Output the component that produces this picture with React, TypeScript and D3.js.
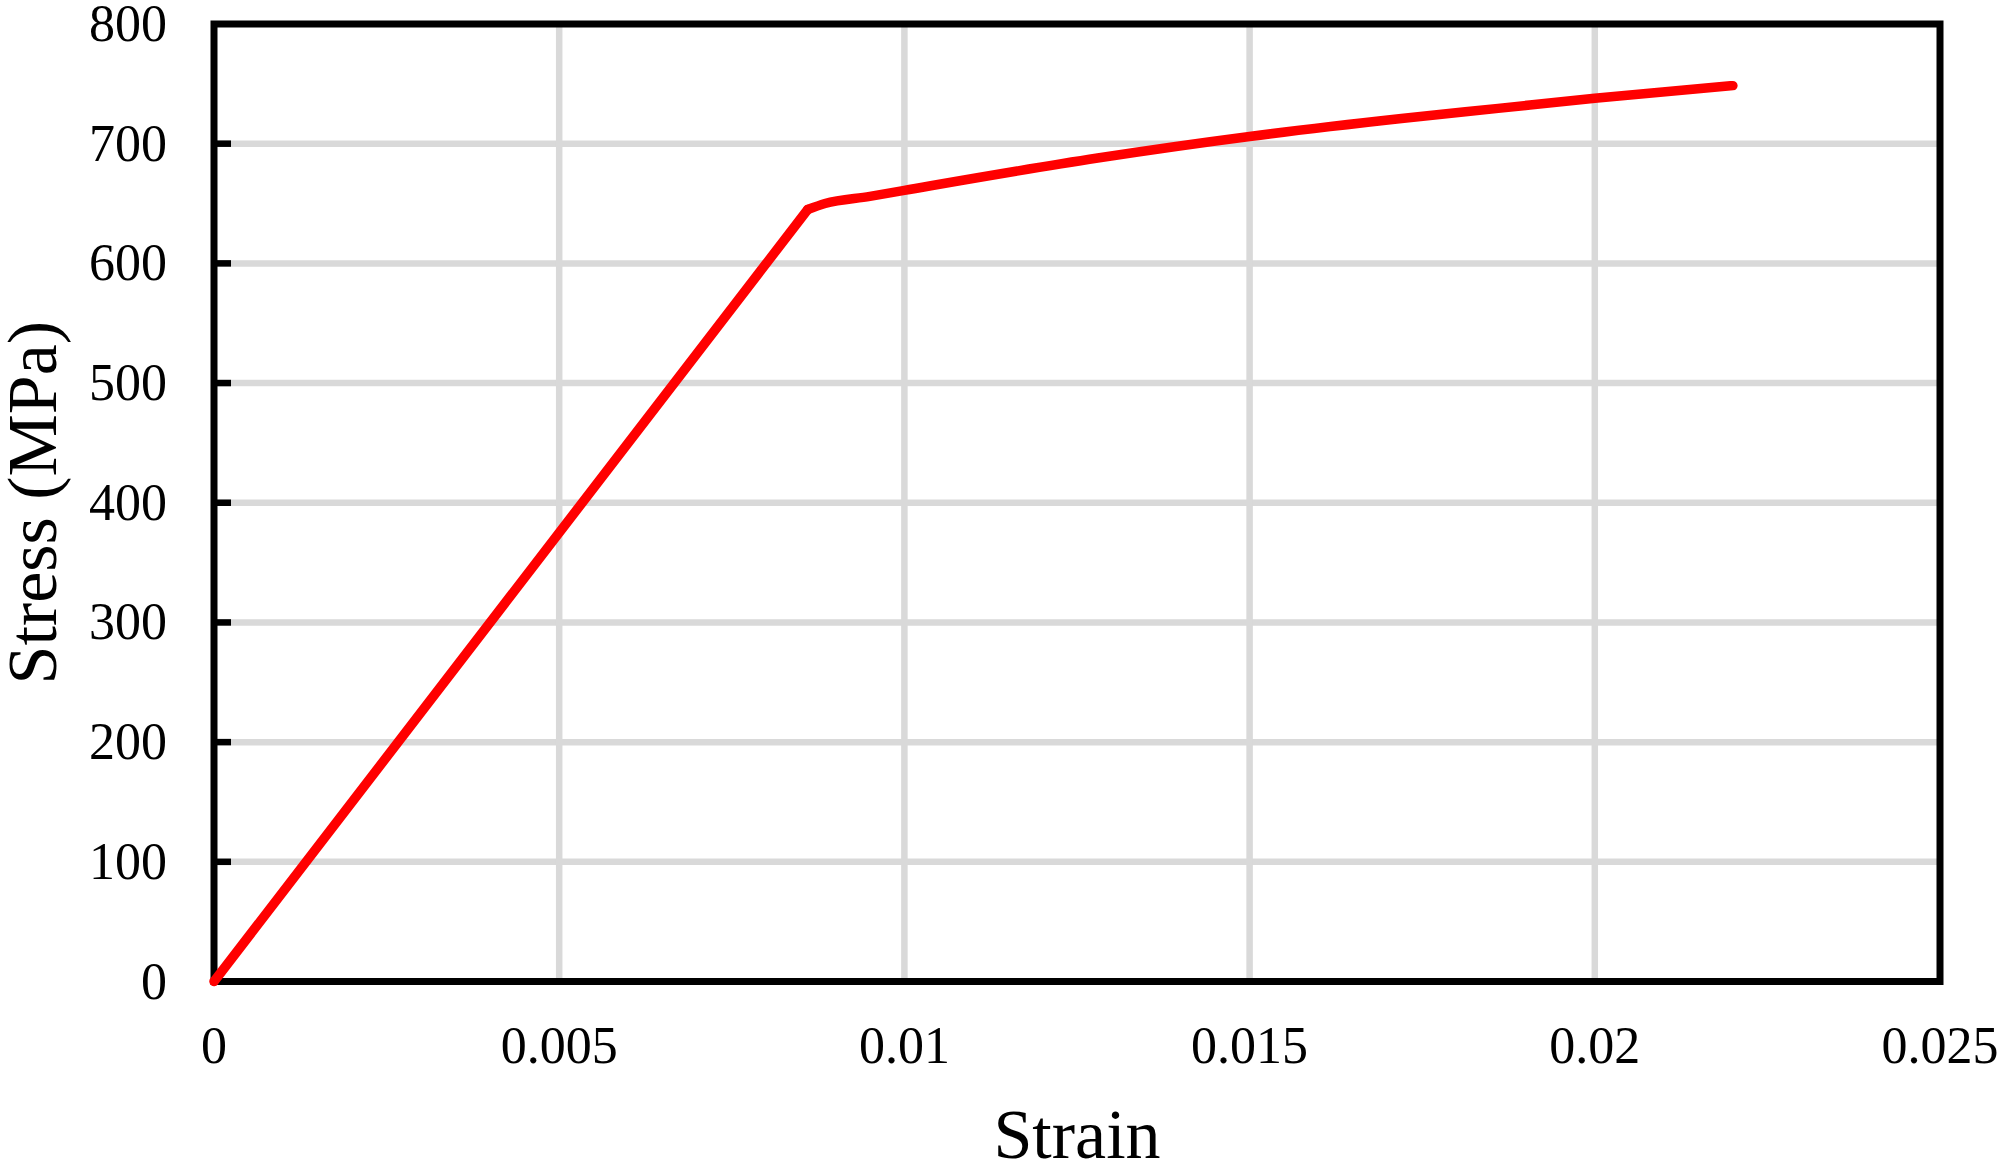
import React from "react";
import * as d3 from "d3";

const strain = [0, 0.0086, 0.00885, 0.0095, 0.01, 0.0128, 0.015, 0.0172, 0.0186, 0.02, 0.022];
const stress = [0, 645, 650, 656, 661, 688, 706, 721, 729.5, 738, 748.5];
const xTicks = [0, 0.005, 0.01, 0.015, 0.02, 0.025];
const xTickLabels = ["0", "0.005", "0.01", "0.015", "0.02", "0.025"];
const yTicks = [0, 100, 200, 300, 400, 500, 600, 700, 800];

const W = 2000;
const H = 1165;
const M = { left: 214, right: 60, top: 24, bottom: 183.5 };
const FONT = "'Liberation Serif', 'Times New Roman', serif";

export default function App() {
  const x = d3.scaleLinear().domain([0, 0.025]).range([M.left, W - M.right]);
  const y = d3.scaleLinear().domain([0, 800]).range([H - M.bottom, M.top]);
  const data = strain.map((s, i) => [s, stress[i]] as [number, number]);
  const elastic = data.slice(0, 2);
  const plastic = data.slice(1);
  const lineLin = d3
    .line<[number, number]>()
    .x((d) => x(d[0]))
    .y((d) => y(d[1]))
    .curve(d3.curveLinear);
  const lineSmooth = d3
    .line<[number, number]>()
    .x((d) => x(d[0]))
    .y((d) => y(d[1]))
    .curve(d3.curveMonotoneX);

  const [x0, x1] = x.range();
  const [y0, y1] = y.range();

  return (
    <svg
      width={W}
      height={H}
      style={{ position: "absolute", left: 0, top: 0, background: "#fff" }}
      fontFamily={FONT}
    >
      <rect x={0} y={0} width={W} height={H} fill="#fff" />
      {yTicks.slice(1, -1).map((t) => (
        <line key={"gy" + t} x1={x0} x2={x1} y1={y(t)} y2={y(t)} stroke="#d9d9d9" strokeWidth={6.5} />
      ))}
      {xTicks.slice(1, -1).map((t) => (
        <line key={"gx" + t} x1={x(t)} x2={x(t)} y1={y0} y2={y1} stroke="#d9d9d9" strokeWidth={6.5} />
      ))}
      {yTicks.slice(1, -1).map((t) => (
        <line key={"ty" + t} x1={x0} x2={x0 + 17} y1={y(t)} y2={y(t)} stroke="#000" strokeWidth={6.5} />
      ))}
      <rect
        x={x0}
        y={y1}
        width={x1 - x0}
        height={y0 - y1}
        fill="none"
        stroke="#000"
        strokeWidth={7}
      />
      <path
        d={lineLin(elastic) || ""}
        fill="none"
        stroke="#ff0000"
        strokeWidth={9.5}
        strokeLinecap="round"
        strokeLinejoin="round"
      />
      <path
        d={lineSmooth(plastic) || ""}
        fill="none"
        stroke="#ff0000"
        strokeWidth={9.5}
        strokeLinecap="round"
        strokeLinejoin="round"
      />
      {yTicks.map((t) => (
        <text key={"ly" + t} x={167} y={y(t) + 17} textAnchor="end" fontSize={52} fill="#000">
          {t}
        </text>
      ))}
      {xTicks.map((t, i) => (
        <text key={"lx" + t} x={x(t)} y={1063} textAnchor="middle" fontSize={52} fill="#000">
          {xTickLabels[i]}
        </text>
      ))}
      <text x={(x0 + x1) / 2} y={1158} textAnchor="middle" fontSize={70} fill="#000">
        Strain
      </text>
      <text
        transform={`translate(56, ${(y0 + y1) / 2}) rotate(-90)`}
        textAnchor="middle"
        fontSize={70}
        fill="#000"
      >
        Stress (MPa)
      </text>
    </svg>
  );
}
